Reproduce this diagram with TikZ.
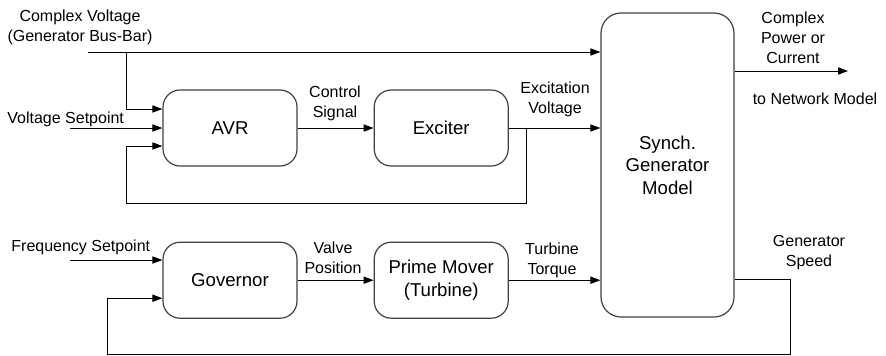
\documentclass[tikz,border=0pt]{standalone}
\usepackage{fontspec}
\setmainfont{Liberation Sans}
\usetikzlibrary{arrows.meta,positioning}
\definecolor{boxline}{RGB}{64,64,64}

\begin{document}
\begin{tikzpicture}[
  x=0.5pt, y=-0.5pt,
  node distance=37.5pt and 38pt,
  block/.style={rectangle, rounded corners=8.5pt, draw=boxline, line width=0.6pt,
                minimum width=67pt, minimum height=38pt, align=center,
                font=\fontsize{9.3}{11.25}\selectfont},
  lbl/.style={inner sep=0pt, align=center, yshift=-1pt, font=\fontsize{8}{10}\selectfont},
  arr/.style={-{Triangle[length=5pt,width=3.6pt]}, line width=0.5pt}
]
\useasboundingbox (0,0) rectangle (886,355);

%% ---- Voltage control (top row) ----
\node[block] (avr) at (230,128) {AVR};
\node[block, right=of avr] (exciter) {Exciter};

%% ---- Speed control (bottom row) ----
\node[block, below=of avr]  (gov)   {Governor};
\node[block, right=of gov]  (prime) {Prime Mover\\(Turbine)};

%% ---- Generator ----
\node[block, minimum width=66.5pt, minimum height=152pt, rounded corners=10pt]
  (gen) at (667.5,165) {Synch.\\Generator\\Model};

%% ---- Free ends ----
\coordinate (busin)   at (88,52);
\coordinate (tap)     at (126,52);
\coordinate (vset)    at (70,128);
\coordinate (exctap)  at (526,128);
\coordinate (avrfb)   at (126,203);
\coordinate (fset)    at (70,260);
\coordinate (netout)  at (848,71);
\coordinate (spd)     at (790,279);
\coordinate (govfb)   at (107,354);

%% ---- Labels ----
\node[lbl] (cvlbl) at (80,25) {Complex Voltage\\(Generator Bus-Bar)};
\node[lbl, anchor=west] (vsetlbl) at (7,117) {Voltage Setpoint};
\node[lbl] (ctrllbl) at (335,101) {Control\\Signal};
\node[lbl] (exvlbl)  at (555,97)  {Excitation\\Voltage};
\node[lbl] (pwrlbl)  at (793,36)  {Complex\\Power or\\Current};
\node[lbl] (netlbl)  at (815,97)  {to Network Model};
\node[lbl, anchor=west] (fsetlbl) at (11,245) {Frequency Setpoint};
\node[lbl] (valvelbl) at (333,256) {Valve\\Position};
\node[lbl] (torqlbl)  at (552,258) {Turbine\\Torque};
\node[lbl] (spdlbl)   at (809,251) {Generator\\Speed};

%% ---- Arrows ----
\draw[arr] (busin) -- (busin -| gen.west);
\draw[arr] (tap) |- ([yshift=9.5pt]avr.west);
\draw[arr] (vset) -- (avr.west);
\draw[arr] (avr) -- (exciter);
\draw[arr] (exciter.east) -- (exciter.east -| gen.west);
% AVR feedback loop
\draw[arr] (exctap) |- (avrfb) |- ([yshift=-9pt]avr.west);
% governor side
\draw[arr] (fset) -- (fset -| gov.west);
\draw[arr] (gov) -- (prime);
\draw[arr] (prime.east) -- (prime.east -| gen.west);
% generator outputs
\draw[arr] (gen.east |- netout) -- (netout);
\draw[arr] (gen.east |- spd) -- (spd) |- (govfb) |- ([yshift=-9pt]gov.west);
\end{tikzpicture}
\end{document}
